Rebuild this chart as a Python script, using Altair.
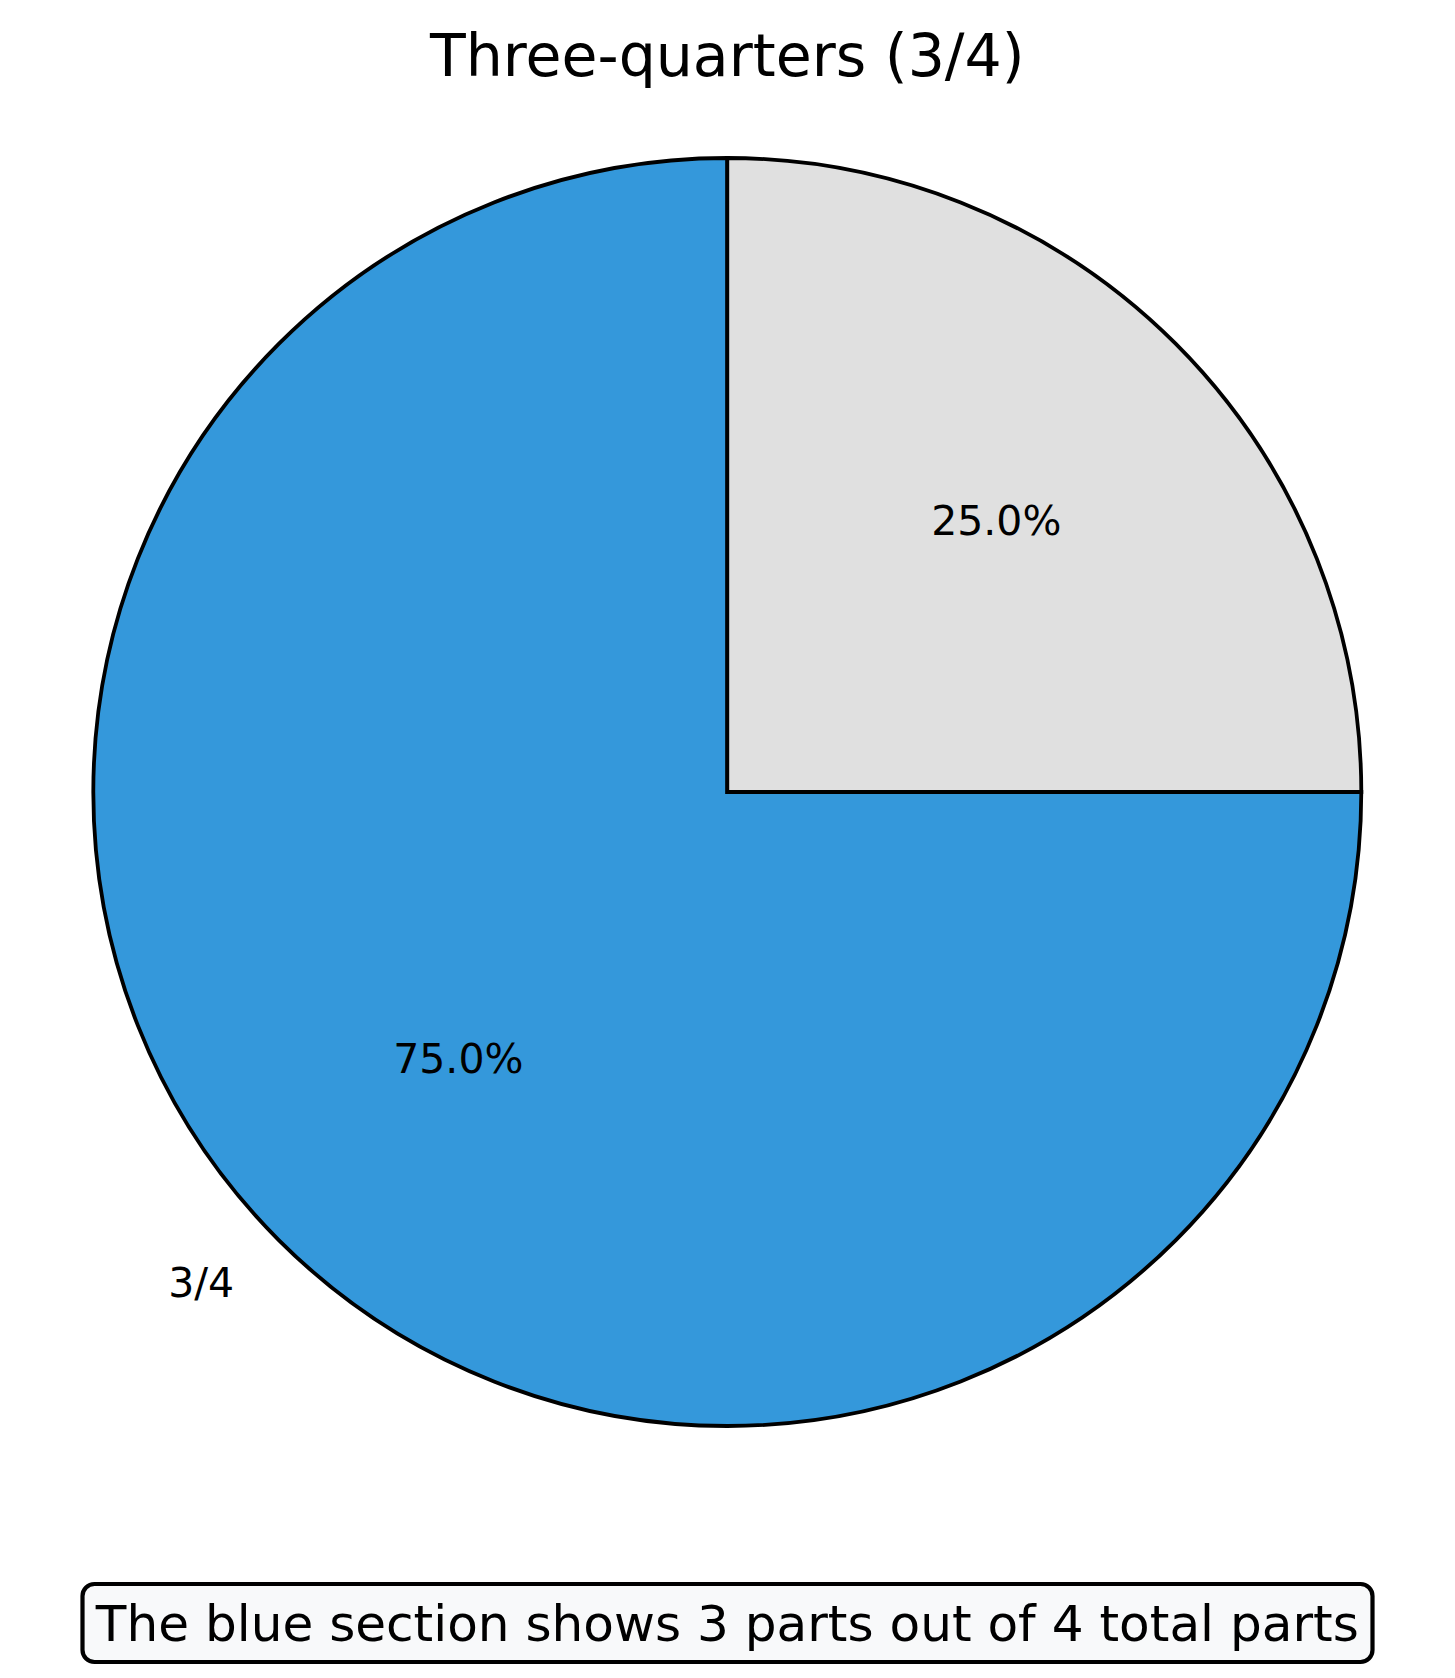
import altair as alt
import pandas as pd

# ---- data ----
slice_labels = ["3/4", ""]
slice_values = [3, 1]
pct_labels = ["75.0%", "25.0%"]
slice_colors = ["#3498db", "#e0e0e0"]
stack_order = [2, 1]
title_text = ["Three-quarters (3/4)"]
footer_text = ["The blue section shows 3 parts out of 4 total parts"]

df = pd.DataFrame({
    "label": slice_labels,
    "value": slice_values,
    "pct": pct_labels,
    "color": slice_colors,
    "order": stack_order,
})

W, H = 1439, 1662
CX, CY, R = 719.3, 784, 634
FONT = "DejaVu Sans"

base = alt.Chart(df).encode(
    theta=alt.Theta("value:Q", stack=True),
    order=alt.Order("order:Q"),
)

arcs = base.mark_arc(
    x=CX, y=CY, outerRadius=R, stroke="black", strokeWidth=3.8
).encode(color=alt.Color("color:N", scale=None, legend=None))

pct = base.mark_text(
    x=CX, y=CY, radius=0.6 * R, font=FONT, fontSize=41, color="black",
    align="center", baseline="middle"
).encode(text="pct:N")

lbl = base.mark_text(
    x=CX, y=CY, radius=1.1 * R, font=FONT, fontSize=41, color="black",
    align="right", baseline="middle"
).encode(text="label:N")

title = alt.Chart(pd.DataFrame({"t": title_text})).mark_text(
    font=FONT, fontSize=58.5, color="black", align="center", baseline="alphabetic"
).encode(x=alt.value(CX), y=alt.value(68), text="t:N")

box = alt.Chart(pd.DataFrame({"t": footer_text})).mark_rect(
    fill="#f8f9fa", stroke="black", strokeWidth=4.2, cornerRadius=12
).encode(x=alt.value(74.5), x2=alt.value(1364.5), y=alt.value(1576), y2=alt.value(1654))

foot = alt.Chart(pd.DataFrame({"t": footer_text})).mark_text(
    font=FONT, fontSize=50.1, color="black", align="center", baseline="alphabetic"
).encode(x=alt.value(CX), y=alt.value(1633), text="t:N")

chart = alt.layer(arcs, pct, lbl, title, box, foot).properties(
    width=W, height=H, padding=0, autosize=alt.AutoSizeParams(type="none"),
    background="white"
).configure_view(stroke=None)

chart.save("out.html", embed_options={"renderer": "svg", "actions": False})
